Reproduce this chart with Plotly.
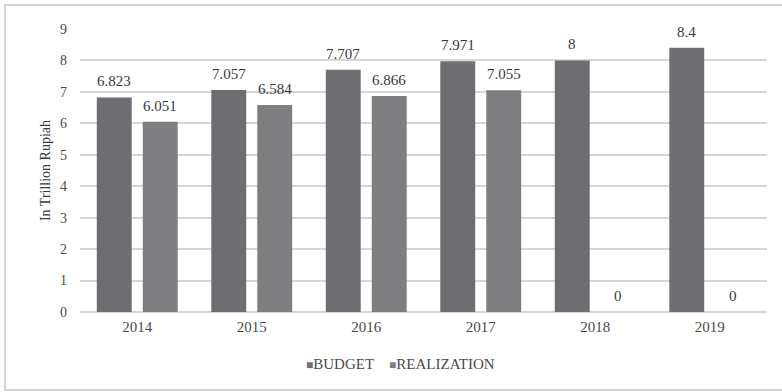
import plotly.graph_objects as go

years = ["2014", "2015", "2016", "2017", "2018", "2019"]
budget = [6.823, 7.057, 7.707, 7.971, 8, 8.4]
realization = [6.051, 6.584, 6.866, 7.055, 0, 0]
budget_labels = ["6.823", "7.057", "7.707", "7.971", "8", "8.4"]
realization_labels = ["6.051", "6.584", "6.866", "7.055", "0", "0"]

FONT = "Liberation Serif"
BUDGET_COLOR = "#6e6e72"
REAL_COLOR = "#7e7e81"
TEXT_COLOR = "#4a4a4a"
LABEL_COLOR = "#383838"

fig = go.Figure()
fig.add_trace(go.Bar(name="BUDGET", x=years, y=budget, marker_color=BUDGET_COLOR,
                     marker_line_width=0))
fig.add_trace(go.Bar(name="REALIZATION", x=years, y=realization, marker_color=REAL_COLOR,
                     marker_line_width=0))

# value labels above each bar (x given as category position)
for i, (v, t) in enumerate(zip(budget, budget_labels)):
    fig.add_annotation(x=i, y=v, text=t, xshift=-23, yshift=6, showarrow=False,
                       yanchor="bottom", font=dict(family=FONT, size=15, color=LABEL_COLOR))
for i, (v, t) in enumerate(zip(realization, realization_labels)):
    fig.add_annotation(x=i, y=v, text=t, xshift=23, yshift=6, showarrow=False,
                       yanchor="bottom", font=dict(family=FONT, size=15, color=LABEL_COLOR))

# legend line below the axis
legend_text = (f"<span style='color:{BUDGET_COLOR};font-size:12px'>■</span>BUDGET"
               f"&nbsp;&nbsp;&nbsp;&nbsp;<span style='color:{REAL_COLOR};font-size:12px'>■</span>REALIZATION")
fig.add_annotation(xref="paper", yref="paper", x=0.466, y=-0.184, xanchor="center",
                   yanchor="middle", text=legend_text, showarrow=False,
                   font=dict(family=FONT, size=15, color=TEXT_COLOR))

# outer chart frame
fig.add_shape(type="rect", xref="paper", yref="paper",
              x0=-0.109, x1=1.04, y0=-0.2756, y1=1.0848,
              line=dict(color="#d4d4d4", width=2), layer="below")

fig.update_layout(
    template="none",
    width=782, height=392,
    margin=dict(l=80, r=15, t=29, b=80),
    paper_bgcolor="white", plot_bgcolor="white",
    barmode="group", bargap=0.197, bargroupgap=0.24,
    font=dict(family=FONT, size=14, color=TEXT_COLOR),
    showlegend=False,
    xaxis=dict(type="category", showgrid=False, showline=False, zeroline=False, ticks="",
               ticklabelstandoff=4, tickfont=dict(family=FONT, size=15, color=TEXT_COLOR)),
    yaxis=dict(range=[0, 9], dtick=1, showgrid=True, gridcolor="#d6d6d6", gridwidth=2,
               zeroline=True, zerolinecolor="#d6d6d6", zerolinewidth=2, showline=False,
               ticks="", ticklabelstandoff=12,
               tickfont=dict(family=FONT, size=14, color=TEXT_COLOR),
               title=dict(text="In Trillion Rupiah",
                          font=dict(family=FONT, size=14, color="#3a3a3a"),
                          standoff=6)),
)

fig.write_html("out.html")
